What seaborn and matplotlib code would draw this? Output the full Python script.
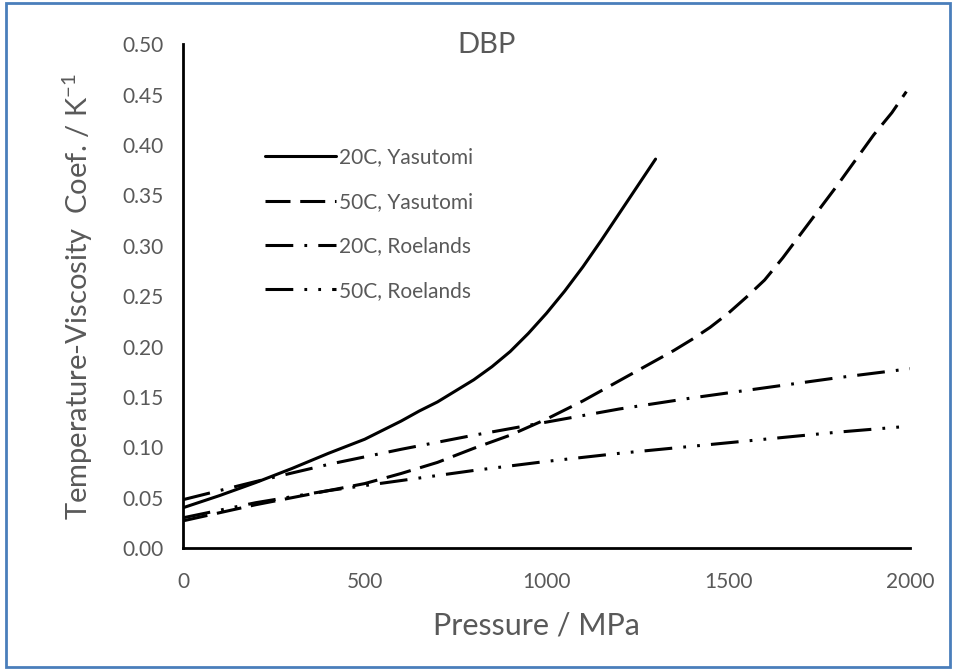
import numpy as np
import pandas as pd
import seaborn as sns
import matplotlib.pyplot as plt
from matplotlib.patches import Rectangle

# data
p_yas20 = [0, 100, 200, 250, 300, 400, 500, 550, 600, 650, 700, 750, 800, 850, 900, 950, 1000, 1050, 1100, 1150, 1200, 1250, 1300]
v_yas20 = [0.040, 0.052, 0.065, 0.072, 0.079, 0.094, 0.108, 0.117, 0.126, 0.136, 0.145, 0.156, 0.167, 0.180, 0.195, 0.213, 0.233, 0.255, 0.279, 0.305, 0.332, 0.359, 0.386]

p_yas50 = [0, 100, 200, 300, 400, 500, 600, 700, 800, 900, 1000, 1100, 1200, 1300, 1350, 1400, 1450, 1500, 1550, 1600, 1650, 1700, 1750, 1800, 1850, 1900, 1950, 1990]
v_yas50 = [0.027, 0.035, 0.043, 0.050, 0.057, 0.064, 0.074, 0.085, 0.099, 0.112, 0.128, 0.146, 0.166, 0.186, 0.196, 0.207, 0.219, 0.233, 0.249, 0.266, 0.288, 0.312, 0.336, 0.360, 0.385, 0.410, 0.432, 0.453]

p_roe = [0, 200, 400, 600, 800, 1000, 1200, 1400, 1600, 1800, 2000]
v_roe20 = [0.048, 0.066, 0.083, 0.098, 0.112, 0.125, 0.138, 0.149, 0.159, 0.169, 0.178]
v_roe50 = [0.030, 0.045, 0.057, 0.067, 0.077, 0.086, 0.094, 0.101, 0.108, 0.115, 0.121]

nomes = ['20C, Yasutomi', '50C, Yasutomi', '20C, Roelands', '50C, Roelands']

df = pd.concat([
    pd.DataFrame({'p': p_yas20, 'v': v_yas20, 'serie': nomes[0]}),
    pd.DataFrame({'p': p_yas50, 'v': v_yas50, 'serie': nomes[1]}),
    pd.DataFrame({'p': p_roe, 'v': v_roe20, 'serie': nomes[2]}),
    pd.DataFrame({'p': p_roe, 'v': v_roe50, 'serie': nomes[3]}),
], ignore_index=True)

#estilo
sns.set_theme(style='white')
plt.rcParams['font.family'] = ['Lato', 'DejaVu Sans']
plt.rcParams['mathtext.default'] = 'regular'
plt.rcParams['lines.scale_dashes'] = False
cinza = '#595959'

tracos = {
    nomes[0]: '',
    nomes[1]: (18, 7),
    nomes[2]: (20, 8, 2, 8),
    nomes[3]: (20, 8, 2, 8, 2, 8),
}

fig = plt.figure(figsize=(9.56, 6.70), dpi=100)
ax = fig.add_axes([0.1914, 0.182, 0.7605, 0.752])

sns.lineplot(data=df, x='p', y='v', hue='serie', style='serie',
             palette=['black'] * 4, dashes=tracos, linewidth=2.2,
             estimator=None, sort=False, ax=ax)

ax.set_xlim(0, 2000)
ax.set_ylim(0, 0.5)
ax.set_xticks([0, 500, 1000, 1500, 2000])
ax.set_yticks(np.arange(0, 0.51, 0.05))
ax.yaxis.set_major_formatter(plt.FormatStrFormatter('%.2f'))

for s in ['top', 'right']:
    ax.spines[s].set_visible(False)
for s in ['left', 'bottom']:
    ax.spines[s].set_color('black')
    ax.spines[s].set_linewidth(2)

ax.tick_params(direction='in', length=7, width=1.5, color='black',
               labelcolor=cinza, labelsize=15)
ax.tick_params(axis='y', pad=14)
ax.tick_params(axis='x', pad=17)

ax.set_xlabel('Pressure / MPa', fontsize=22, color=cinza)
ax.xaxis.set_label_coords(0.4856, -0.125)
ax.set_ylabel('Temperature-Viscosity  Coef. / K$^{-1}$', fontsize=21, color=cinza, labelpad=20)

ax.text(0.418, 0.998, 'DBP', transform=ax.transAxes, ha='center', va='center',
        fontsize=21, color=cinza)

handles, labels = ax.get_legend_handles_labels()
ax.legend(handles, labels, loc='upper left', bbox_to_anchor=(0.113, 0.795),
          frameon=False, fontsize=15, labelcolor=cinza, handlelength=3.4,
          handletextpad=0.15, labelspacing=1.17, borderpad=0, borderaxespad=0)

# borda azul
fig.patches.append(Rectangle((0.006, 0.004), 0.988, 0.992, transform=fig.transFigure,
                             fill=False, edgecolor='#4A7EBB', linewidth=2))

fig.savefig('out.png', dpi=100)
